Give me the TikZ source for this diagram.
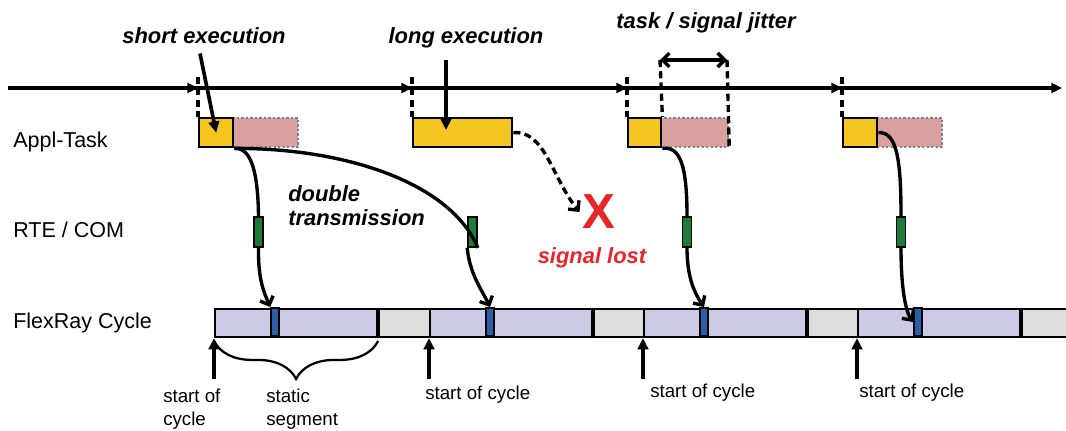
\documentclass[tikz,border=0pt]{standalone}
\usepackage{fontspec}
\setmainfont{Liberation Sans}
\usetikzlibrary{arrows.meta,calc,decorations.pathreplacing}
\definecolor{taskyel}{HTML}{F5C520}
\definecolor{taskpnk}{HTML}{D9A0A0}
\definecolor{rtegrn}{HTML}{1E7B3A}
\definecolor{slotblu}{HTML}{2B5EA8}
\definecolor{statlav}{HTML}{CCCAE4}
\definecolor{dyngry}{HTML}{DDDDDD}
\definecolor{lostred}{HTML}{E8262A}

\begin{document}
\begin{tikzpicture}[x=0.025cm,y=-0.025cm,
    rowlbl/.style={anchor=base west,inner sep=0,font=\fontsize{15.3}{18}\selectfont},
    annot/.style={inner sep=0,font=\fontsize{15.6}{17}\selectfont\bfseries\itshape},
    cyclbl/.style={inner sep=0,align=left,font=\fontsize{13.3}{16}\selectfont},
    timeaxis/.style={line width=2.4pt,-{Triangle[length=7.5pt,width=7pt]}},
    startmark/.style={line width=2.4pt,dash pattern=on 5pt off 3pt},
    pointer/.style={line width=2.6pt,-{Triangle[length=8pt,width=7.5pt]}},
    sig/.style={line width=2.4pt},
    sigto/.style={sig,-{Straight Barb[length=5pt,width=10pt]}},
    yel/.style={draw,line width=1.7pt,fill=taskyel,minimum height=0.725cm,inner sep=0,anchor=north west},
    pnk/.style={draw=gray,line width=1.6pt,dash pattern=on 1.6pt off 1.6pt,fill=taskpnk,minimum height=0.725cm,inner sep=0,anchor=north west},
    grn/.style={draw,line width=1.2pt,fill=rtegrn,minimum width=0.225cm,minimum height=0.75cm,inner sep=0},
    statseg/.style={draw,line width=1.5pt,fill=statlav,minimum width=4.05cm,minimum height=0.7cm,inner sep=0,anchor=north west},
    dynseg/.style={statseg,fill=dyngry,minimum width=1.325cm},
    frslot/.style={draw,line width=1.3pt,fill=slotblu,minimum width=0.2cm,minimum height=0.7cm,inner sep=0}]

  \useasboundingbox (0,0) rectangle (1066,430);

  % time line, one release per period
  \coordinate (tl0) at (8,88);
  \coordinate (tl1) at (1062,88);
  \draw[timeaxis] (tl0) -- (tl1);
  \foreach \x in {198,412,627,842}
    \draw[timeaxis] (\x-12,88) -- (\x,88);

  % task executions (pink = possible overrun)
  \node[pnk,minimum width=1.625cm] (p1) at (232,117) {};
  \node[yel,minimum width=0.85cm] (t1) at (198,117) {};
  \node[yel,minimum width=2.475cm] (t2) at (412,117) {};
  \node[pnk,minimum width=1.675cm] (p3) at (660,117) {};
  \node[yel,minimum width=0.825cm] (t3) at (627,117) {};
  \node[pnk,minimum width=1.625cm] (p4) at (876,117) {};
  \node[yel,minimum width=0.85cm] (t4) at (842,117) {};
  \foreach \t/\x in {t1/198,t2/412,t3/627,t4/842}
    \draw[startmark] (\x,77) -- (\t.north west);

  % jitter
  \coordinate (j1) at (660,60);
  \coordinate (j2) at (727,60);
  \draw[startmark] (j1) -- (t3.north east);
  \draw[startmark] (j2) -- (p3.south east);
  \draw[line width=2.4pt,{Straight Barb[length=5pt,width=10pt]}-{Straight Barb[length=5pt,width=10pt]}] (j1) -- (j2);

  \node[annot,anchor=base] (se) at (204,43) {short execution};
  \node[annot,anchor=base] (le) at (466,43) {long execution};
  \node[annot,anchor=base] (jit) at (706,28) {task / signal jitter};
  \coordinate (lehit) at (446,130);
  \draw[pointer] ($(se.south)+(-4,10)$) -- (t1.center);
  \draw[pointer] ($(le.south -| lehit)+(0,12)$) -- (lehit);

  % rows
  \node[rowlbl] (appl) at (13,147) {Appl-Task};
  \node[rowlbl] (rte) at (13,237) {RTE / COM};
  \node[rowlbl] (frc) at (13,328) {FlexRay Cycle};

  \node[grn] (g1) at (258.5,232) {};
  \node[grn] (g2) at (472.5,232) {};
  \node[grn] (g3) at (687,232) {};
  \node[grn] (g4) at (901,232) {};

  % flexray cycles: static segment, dynamic segment, slot
  \foreach \i/\x in {1/214,2/429,3/643,4/857}{
    \node[statseg] (st\i) at (\x,308) {};
    \node[dynseg] (dy\i) at (st\i.north east) {};
    \node[frslot] (fr\i) at (\x+61,322) {};
    \draw[pointer] (\x,379) -- (st\i.south west);
  }

  \draw[line width=1.6pt,decorate,decoration={brace,mirror,amplitude=0.95cm,raise=2pt}]
    (st1.south west) -- (st1.south east);

  % signal paths
  \draw[sig] (t1.south east) .. controls (252,147) and (258,175) .. (g1.north);
  \draw[sigto] (g1.south) .. controls (258,280) and (264,292) .. (fr1.north west);
  \draw[sig] (t1.south east) .. controls (350,148) and (452,185) .. (g2.south east);
  \draw[sigto] (g2.south west) .. controls (470,275) and (482,290) .. (fr2.north);
  \node[inner sep=2pt,text=lostred,font=\fontsize{35}{40}\selectfont\bfseries] (lost) at (599,212) {X};
  \draw[sigto,dash pattern=on 5pt off 3pt] (t2.east) .. controls (545,130) and (552,178) .. (lost.west);
  \draw[sig] (t3.south east) .. controls (680,146) and (687,165) .. (g3.north);
  \draw[sigto] (g3.south) .. controls (687,280) and (696,295) .. (fr3.north);
  \draw[sig] (t4.east) .. controls (898,131) and (901,165) .. (g4.north);
  \draw[sigto] (g4.south) .. controls (901,290) and (906,312) .. (fr4.west);

  \node[annot,text=lostred,anchor=base] (lostlbl) at (592,263) {signal lost};
  \node[annot,anchor=north west,align=left] (dbl) at (288,185) {double\\transmission};

  \node[cyclbl,anchor=north west] (soc1) at (163,389) {start of\\cycle};
  \node[cyclbl,anchor=north west] (stat) at (266,389) {static\\segment};
  \node[cyclbl,anchor=base west] (soc2) at (425,399) {start of cycle};
  \node[cyclbl,anchor=base west] (soc3) at (650,397) {start of cycle};
  \node[cyclbl,anchor=base west] (soc4) at (859,397) {start of cycle};
\end{tikzpicture}
\end{document}
